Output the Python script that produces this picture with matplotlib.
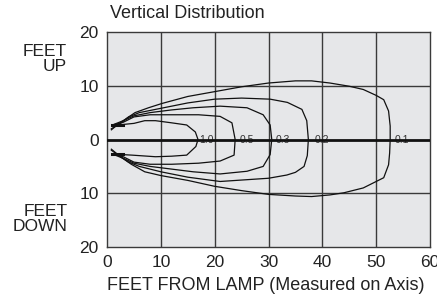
import matplotlib
matplotlib.use("Agg")
import matplotlib.pyplot as plt

# Isofootcandle contours (feet): x = distance from lamp, y = up(+)/down(-)
levels = ["1.0", "0.5", "0.3", "0.2", "0.1"]

c10_x = [1, 3, 5, 7, 9, 12, 14.8, 16.4, 16.9, 16.5, 14.8, 12, 9, 4.6, 1]
c10_y = [2.7, 2.8, 3.0, 3.5, 3.5, 3.1, 2.7, 1.4, 0, -1.3, -2.9, -3.1, -3.2, -2.9, -2.7]

c05_x = [1, 3, 5, 8, 12, 17, 21, 23.2, 23.8, 23.6, 21, 17, 12, 8, 5, 3, 1]
c05_y = [2.7, 3.2, 4.2, 4.6, 4.6, 4.6, 4.3, 3.1, 0, -2.9, -4.0, -4.4, -4.6, -4.6, -4.2, -3.2, -2.7]

c03_x = [1, 3, 5, 8, 12, 16, 21, 26, 29, 30.3, 30.6, 30.3, 29, 26, 21, 16, 12, 8, 5, 3, 1]
c03_y = [2.7, 3.5, 4.4, 5.0, 5.5, 5.9, 6.2, 5.9, 4.6, 2.7, 0, -2.8, -5.0, -5.9, -6.4, -6.0, -5.5, -5.0, -4.4, -3.5, -2.7]

c02_x = [0.8, 2.5, 4, 6, 10, 15, 20, 25, 30.3, 33.5, 36.2, 37.1, 37.4,
         37.2, 36.6, 35, 33.4, 30, 27, 21, 15, 10, 6, 4, 2.5, 0.8]
c02_y = [2.0, 3.0, 4.2, 5.0, 5.8, 6.8, 7.5, 7.7, 7.5, 6.9, 5.6, 3.5, 0,
         -3.0, -5.0, -6.1, -6.6, -7.2, -7.4, -7.8, -7.0, -6.0, -5.0, -4.2, -3.2, -2.0]

c01_x = [0.8, 2, 3.3, 5.2, 7.7, 10.2, 15, 20, 25, 30, 35, 38, 41.4, 45, 47.6, 50, 51.4, 52.3, 52.6, 52.6,
         52.5, 52.3, 51.4, 47.6, 44, 41.4, 38, 35, 30, 25, 20, 15, 10, 7, 4.5, 2.5, 0.8]
c01_y = [1.8, 2.8, 3.7, 5.0, 5.9, 6.7, 8.0, 8.9, 9.8, 10.5, 10.9, 10.9, 10.5, 9.9, 9.3, 8.2, 7.4, 5.3, 2.5, 0,
         -2.5, -4.7, -7.1, -9.0, -9.9, -10.3, -10.6, -10.5, -10.2, -9.5, -8.7, -7.6, -6.7, -6.0, -4.6, -3.2, -1.8]

contours = [(c10_x, c10_y), (c05_x, c05_y), (c03_x, c03_y), (c02_x, c02_y), (c01_x, c01_y)]
label_x = [18.4, 26.0, 32.7, 40.0, 54.8]

lamp_x = [1, 3]
lamp_y = [2.7, -2.7]

x_ticks = [0, 10, 20, 30, 40, 50, 60]
y_ticks = [-20, -10, 0, 10, 20]
y_ticklabels = ["20", "10", "0", "10", "20"]

plt.rcParams["font.family"] = ["Liberation Sans", "DejaVu Sans"]

fig = plt.figure(figsize=(4.37, 3.01), dpi=100)
ax = fig.add_axes([0.245, 0.179, 0.739, 0.715])
ax.set_facecolor("#e6e7e9")
ax.set_xlim(0, 60)
ax.set_ylim(-20, 20)

for gx in x_ticks[1:-1]:
    ax.axvline(gx, color="#3a3a3a", lw=1.0, zorder=1)
for gy in [-10, 10]:
    ax.axhline(gy, color="#3a3a3a", lw=1.0, zorder=1)

for (cx, cy), lab, lx in zip(contours, levels, label_x):
    ax.plot(cx, cy, color="#111111", lw=0.9, zorder=3)
    ax.text(lx, 0, lab, fontsize=7.5, color="#333333", ha="center", va="center", zorder=2)

ax.plot([lamp_x[0], lamp_x[1]], [lamp_y[0], lamp_y[0]], color="#111111", lw=2.2, zorder=3)
ax.plot([lamp_x[0], lamp_x[1]], [lamp_y[1], lamp_y[1]], color="#111111", lw=2.2, zorder=3)
ax.axhline(0, color="#111111", lw=2.0, zorder=4)

ax.set_xticks(x_ticks)
ax.set_yticks(y_ticks)
ax.set_yticklabels(y_ticklabels)
ax.tick_params(length=0, labelsize=12.5, colors="#222222", pad=6)
for s in ax.spines.values():
    s.set_color("#3a3a3a")
    s.set_linewidth(1.0)

fig.text(67 / 437, 1 - 59 / 301, "FEET\nUP", ha="right", va="center", fontsize=12.5,
         color="#222222", linespacing=1.0)
fig.text(68 / 437, 1 - 219 / 301, "FEET\nDOWN", ha="right", va="center", fontsize=12.5,
         color="#222222", linespacing=1.0)
fig.text(110 / 437, 1 - 14 / 301, "Vertical Distribution", ha="left", va="center",
         fontsize=13, color="#222222")
fig.text(107 / 437, 1 - 286 / 301, "FEET FROM LAMP (Measured on Axis)", ha="left",
         va="center", fontsize=13, color="#222222")

fig.savefig("out.png", dpi=100)
